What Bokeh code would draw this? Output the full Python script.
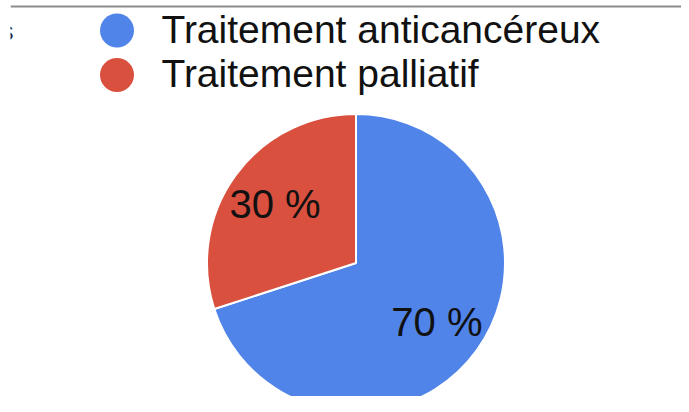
import numpy as np
from bokeh.plotting import figure
from bokeh.models import Range1d, ColumnDataSource, Span
from bokeh.core.properties import value
from bokeh.embed import file_html
from bokeh.resources import INLINE

# ---- data ----
categories = ["Traitement anticancéreux", "Traitement palliatif"]
shares = [70, 30]
slice_labels = ["70 %", "30 %"]
colors = ["#5084E9", "#D9503E"]

# ---- layout (pixels) ----
W, H = 681, 396
LEFT = 10
cx, cy, R = 355.5, 133.5, 149.0
label_r = 100.0
FONT = "Liberation Sans"

frac = np.array(shares, dtype=float) / sum(shares)
cum = np.concatenate([[0.0], np.cumsum(frac)])
start = np.pi / 2 - 2 * np.pi * cum[:-1]
end = np.pi / 2 - 2 * np.pi * cum[1:]
mid = (start + end) / 2

src = ColumnDataSource(dict(
    start=start, end=end, color=colors,
    lx=cx + label_r * np.cos(mid), ly=cy + label_r * np.sin(mid),
    label=slice_labels,
))

p = figure(width=W, height=H, x_range=Range1d(LEFT, W), y_range=Range1d(0, H),
           output_backend="svg", toolbar_location=None,
           min_border=0, min_border_left=LEFT,
           x_axis_type=None, y_axis_type=None)
p.grid.visible = False
p.outline_line_color = None
p.background_fill_color = "white"
p.border_fill_color = "white"

# top rule
p.add_layout(Span(location=390, dimension="width", line_color="#8c8c8c", line_width=2))

# clipped glyph fragment at left edge
p.text(x=[13], y=[366], text=["s"], text_font=value(FONT), text_font_size="26px",
       text_color="#222222", text_align="right", text_baseline="alphabetic")

# pie
p.wedge(x=cx, y=cy, radius=R, start_angle="start", end_angle="end",
        direction="clock", fill_color="color", line_color="white",
        line_width=2, source=src)

p.text(x="lx", y="ly", text="label", source=src, text_font=value(FONT),
       text_font_size="40px", text_color="#111111", text_align="center",
       text_baseline="alphabetic")

# legend
leg_x, leg_y0, leg_dy = 116.5, 366.0, 44.5
leg_src = ColumnDataSource(dict(
    x=[leg_x] * len(categories),
    y=[leg_y0 - i * leg_dy for i in range(len(categories))],
    tx=[leg_x + 44.5] * len(categories),
    ty=[leg_y0 + 1.2 - i * leg_dy for i in range(len(categories))],
    name=categories, color=colors,
))
p.scatter(x="x", y="y", size=34, fill_color="color", line_color=None, source=leg_src)
p.text(x="tx", y="ty", text="name", source=leg_src, text_font=value(FONT),
       text_font_size="39px", text_color="#111111", text_align="left",
       text_baseline="alphabetic")

open("out.html", "w").write(file_html(p, INLINE))
